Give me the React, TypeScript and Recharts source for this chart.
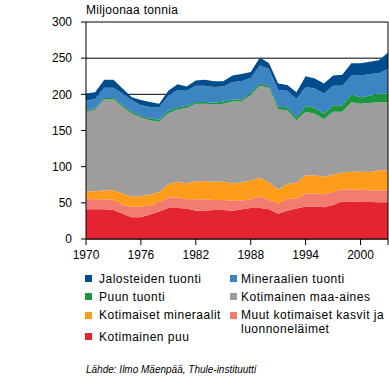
import React from "react";
import { Area, AreaChart, CartesianGrid, ReferenceLine, XAxis, YAxis } from "recharts";

const years = [
  1970, 1971, 1972, 1973, 1974, 1975, 1976, 1977, 1978, 1979, 1980, 1981, 1982, 1983, 1984, 1985, 1986,
  1987, 1988, 1989, 1990, 1991, 1992, 1993, 1994, 1995, 1996, 1997, 1998, 1999, 2000, 2001, 2002, 2003,
];

// million tonnes, bottom of the stack first
const kotimainenPuu = [
  41, 41, 41, 40, 35, 30, 30, 34, 38, 43, 43, 42, 39, 39, 40, 40, 39, 41, 43, 43, 41, 35, 39, 42, 45, 45, 44,
  47, 52, 52, 51, 51, 50, 50,
];
const muutKasvit = [
  14, 14, 14, 14, 12, 14.5, 15, 12, 13, 14.5, 14.5, 13, 16, 16, 14, 14, 14, 12, 12, 16, 13, 13, 17, 14, 18,
  18, 18, 18, 16.5, 16.5, 17, 16.5, 17.5, 17.5,
];
const kotimaisetMineraalit = [
  11, 11, 12.5, 13.5, 16, 14, 14.5, 15.5, 14, 18.5, 21.5, 22, 25, 25, 25, 25, 24, 25, 26, 26, 24, 20.5, 20,
  22, 25, 25, 24, 24, 23.5, 24.5, 25, 25, 27.5, 27.5,
];
const maaAines = [
  110, 113, 125.5, 125.5, 120, 114.5, 108.5, 102.5, 97, 98, 100, 104, 107, 107, 107, 108, 113, 112, 118, 127,
  131, 110.5, 102, 86, 88, 85, 80, 87, 84, 96, 94, 95.5, 94, 94,
];
const puunTuonti = [
  2, 2, 2, 2, 2, 2.5, 2.5, 3, 3, 3, 3, 3, 2.5, 2.5, 2.5, 3, 3, 3, 3, 3, 3, 4, 4, 4, 8, 8, 7, 9, 9, 11, 9, 10,
  12, 12,
];
const mineraalienTuonti = [
  13, 13, 14, 14, 16, 16.5, 14.5, 15.5, 17, 21, 24, 21, 22.5, 22.5, 21.5, 21, 24, 25, 21, 25, 23, 23, 23, 26,
  26, 27, 28, 27, 27, 26, 30, 30, 28, 34,
];
const jalosteidenTuonti = [
  10, 9, 11, 11, 7, 4, 7, 7, 5, 7, 8, 6, 7, 8, 8, 7, 9, 10, 8, 11, 8, 9, 8, 9, 15, 14, 14, 14, 15, 17, 17, 17,
  18, 23,
];

const yTicks = [0, 50, 100, 150, 200, 250, 300];
const xTicks = [1970, 1976, 1982, 1988, 1994, 2000, 2003];

const series = [
  { key: "kotimainenPuu", name: "Kotimainen puu", color: "#e42431", values: kotimainenPuu },
  { key: "muutKasvit", name: "Muut kotimaiset kasvit ja luonnoneläimet", color: "#f47b70", values: muutKasvit },
  { key: "kotimaisetMineraalit", name: "Kotimaiset mineraalit", color: "#ff9c1a", values: kotimaisetMineraalit },
  { key: "maaAines", name: "Kotimainen maa-aines", color: "#9e9c9d", values: maaAines },
  { key: "puunTuonti", name: "Puun tuonti", color: "#1a963e", values: puunTuonti },
  { key: "mineraalienTuonti", name: "Mineraalien tuonti", color: "#3c84c2", values: mineraalienTuonti },
  { key: "jalosteidenTuonti", name: "Jalosteiden tuonti", color: "#004c8c", values: jalosteidenTuonti },
];

const data = years.map((year, i) => {
  const row: Record<string, number> = { year };
  series.forEach((s) => (row[s.key] = s.values[i]));
  return row;
});

const font = '"Liberation Sans", Arial, sans-serif';
const tick = { fontSize: 12, fill: "#000", fontFamily: font };

// legend layout: [series key, column, text top]
const legendRows: [string, number, number, number][] = [
  ["jalosteidenTuonti", 0, 271.5, 275],
  ["puunTuonti", 0, 289.5, 293],
  ["kotimaisetMineraalit", 0, 307.5, 312],
  ["kotimainenPuu", 0, 329.5, 332.5],
  ["mineraalienTuonti", 1, 271.5, 275],
  ["maaAines", 1, 289.5, 293],
  ["muutKasvit", 1, 309, 312],
];

function Legend() {
  return (
    <>
      {legendRows.map(([key, col, top, boxTop]) => {
        const s = series.find((x) => x.key === key)!;
        const boxLeft = col === 0 ? 85 : 230;
        const textLeft = col === 0 ? 99 : 241;
        const label =
          key === "muutKasvit" ? (
            <>
              Muut kotimaiset kasvit ja
              <br />
              luonnoneläimet
            </>
          ) : (
            s.name
          );
        return (
          <React.Fragment key={key}>
            <div
              style={{ position: "absolute", left: boxLeft, top: boxTop, width: 7, height: 7, background: s.color }}
            />
            <div
              style={{
                position: "absolute",
                left: textLeft,
                top,
                fontSize: 12,
                lineHeight: key === "muutKasvit" ? "13.5px" : "14px",
                letterSpacing: 0.5,
                whiteSpace: "nowrap",
              }}
            >
              {label}
            </div>
          </React.Fragment>
        );
      })}
    </>
  );
}

export default function App() {
  return (
    <div
      style={{
        position: "absolute",
        left: 0,
        top: 0,
        width: 389,
        height: 386,
        background: "#fff",
        fontFamily: font,
        color: "#000",
        overflow: "hidden",
      }}
    >
      <div style={{ position: "absolute", left: 86, top: 2.5, fontSize: 12, lineHeight: "14px", letterSpacing: 0.3 }}>
        Miljoonaa tonnia
      </div>
      <AreaChart width={389} height={262} data={data} margin={{ top: 22, right: 1, bottom: 0, left: 0 }}>
        <CartesianGrid vertical={false} stroke="#000" strokeDasharray="" />
        <XAxis
          dataKey="year"
          ticks={xTicks}
          tickFormatter={(v) => (v === 2003 ? "" : String(v))}
          height={23}
          tick={tick}
          tickLine={{ stroke: "#000" }}
          axisLine={{ stroke: "#000" }}
          tickSize={6}
          tickMargin={5}
          interval={0}
        />
        <YAxis
          domain={[0, 300]}
          ticks={yTicks}
          width={86}
          tick={tick}
          tickLine={{ stroke: "#000" }}
          axisLine={{ stroke: "#000" }}
          tickSize={5}
          tickMargin={9}
          interval={0}
        />
        {series.map((s) => (
          <Area
            key={s.key}
            dataKey={s.key}
            name={s.name}
            stackId="a"
            type="linear"
            fill={s.color}
            fillOpacity={1}
            stroke="none"
            isAnimationActive={false}
            dot={false}
            activeDot={false}
          />
        ))}
        <ReferenceLine x={2003} stroke="#000" ifOverflow="visible" />
      </AreaChart>
      <Legend />
      <div
        style={{ position: "absolute", left: 86, top: 364, fontSize: 10, lineHeight: "12px", fontStyle: "italic" }}
      >
        Lähde: Ilmo Mäenpää, Thule-instituutti
      </div>
    </div>
  );
}
